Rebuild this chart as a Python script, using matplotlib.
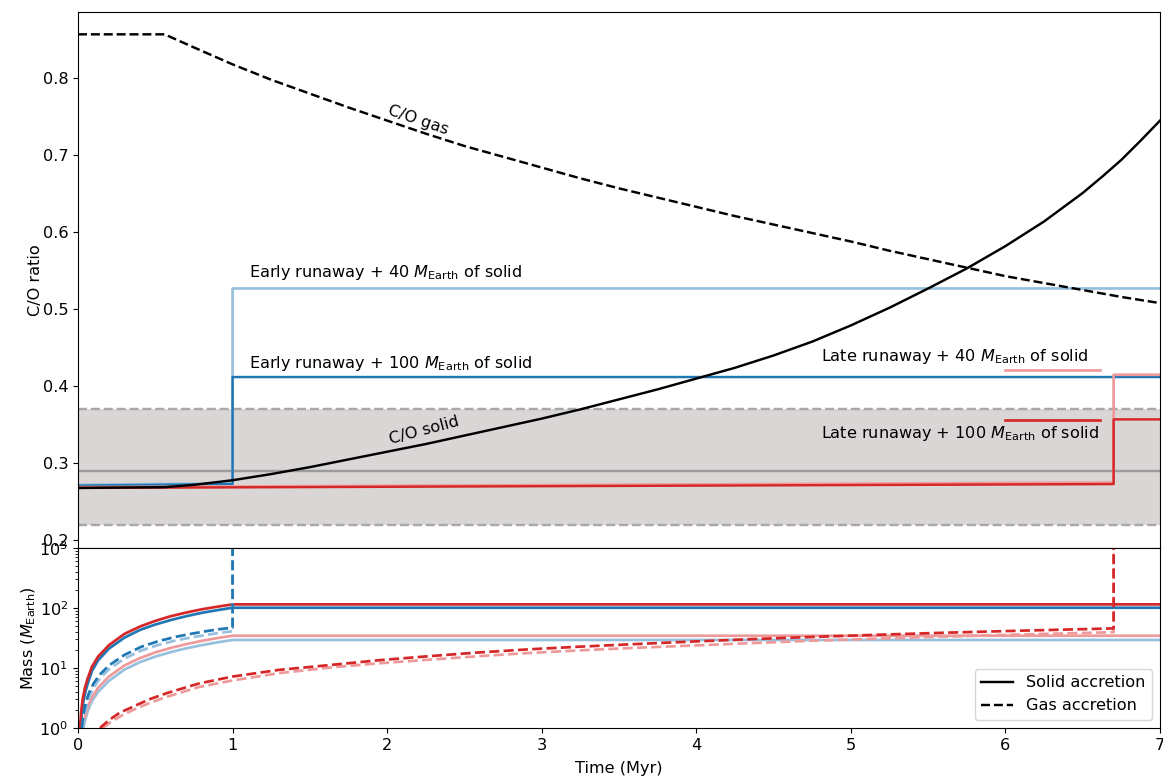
import numpy as np
import matplotlib
matplotlib.use("Agg")
import matplotlib.pyplot as plt
from matplotlib.lines import Line2D

# ---------------- data: C/O ratio panel ----------------
gas_t = [0.0, 0.56, 0.75, 1.0, 1.25, 1.5, 1.75, 2.0, 2.25, 2.5, 2.75, 3.0, 3.25, 3.5, 3.75,
         4.0, 4.25, 4.5, 4.75, 5.0, 5.25, 5.5, 5.75, 6.0, 6.25, 6.5, 6.75, 7.0]
gas_co = [0.857, 0.857, 0.840, 0.818, 0.798, 0.780, 0.762, 0.745, 0.728, 0.712, 0.698, 0.684, 0.670, 0.657, 0.645,
          0.633, 0.621, 0.610, 0.599, 0.588, 0.576, 0.565, 0.554, 0.543, 0.534, 0.525, 0.516, 0.508]

solid_t = [0.0, 0.56, 0.75, 1.0, 1.25, 1.5, 1.75, 2.0, 2.25, 2.5, 2.75, 3.0, 3.25, 3.5, 3.75,
           4.0, 4.25, 4.5, 4.75, 5.0, 5.25, 5.5, 5.75, 6.0, 6.25, 6.5, 6.625, 6.75, 6.875, 7.0]
solid_co = [0.268, 0.269, 0.272, 0.278, 0.286, 0.295, 0.305, 0.315, 0.325, 0.336, 0.347, 0.358, 0.370, 0.383, 0.396,
            0.410, 0.424, 0.440, 0.458, 0.479, 0.502, 0.527, 0.553, 0.582, 0.614, 0.651, 0.672, 0.694, 0.719, 0.745]

early40_t = [0.0, 1.0, 1.0, 7.0]
early40_co = [0.272, 0.274, 0.527, 0.527]
early100_t = [0.0, 1.0, 1.0, 7.0]
early100_co = [0.271, 0.273, 0.412, 0.412]
late40_t = [0.0, 6.7, 6.7, 7.0]
late40_co = [0.269, 0.275, 0.415, 0.415]
late100_t = [0.0, 6.7, 6.7, 7.0]
late100_co = [0.268, 0.273, 0.357, 0.357]

band_low, band_mid, band_high = 0.22, 0.29, 0.37

# ---------------- data: mass panel ----------------
red_solid_t = [0.013, 0.02, 0.03, 0.045, 0.06, 0.09, 0.13, 0.2, 0.3, 0.4, 0.5, 0.6, 0.7, 0.8, 0.9, 1.0, 7.0]
red_solid_m = [1.0, 1.8, 3.0, 4.7, 6.4, 10.5, 15.5, 24, 37, 49, 61, 73, 84, 95, 105, 115, 115]
blue_solid_t = [0.017, 0.024, 0.034, 0.05, 0.065, 0.09, 0.13, 0.2, 0.3, 0.4, 0.5, 0.6, 0.7, 0.8, 0.9, 1.0, 7.0]
blue_solid_m = [1.0, 1.7, 2.7, 4.2, 5.7, 8.9, 13.4, 21, 32, 43, 53, 63, 73, 83, 92, 101, 101]
lred_solid_t = [0.03, 0.04, 0.055, 0.07, 0.09, 0.13, 0.2, 0.3, 0.4, 0.5, 0.6, 0.7, 0.8, 0.9, 1.0, 7.0]
lred_solid_m = [1.0, 1.4, 1.9, 2.5, 3.2, 4.7, 7.2, 11.0, 14.6, 18.2, 21.6, 25.0, 28.3, 31.5, 34.5, 34.5]
lblue_solid_t = [0.035, 0.045, 0.06, 0.075, 0.09, 0.13, 0.2, 0.3, 0.4, 0.5, 0.6, 0.7, 0.8, 0.9, 1.0, 7.0]
lblue_solid_m = [1.0, 1.3, 1.8, 2.3, 2.8, 4.0, 6.1, 9.4, 12.5, 15.5, 18.4, 21.3, 24.0, 26.7, 29.3, 29.3]

blue_gas_t = [0.025, 0.035, 0.05, 0.07, 0.1, 0.14, 0.2, 0.3, 0.41, 0.52, 0.63, 0.74, 0.84, 0.92, 1.0, 1.0]
blue_gas_m = [1.0, 1.7, 2.6, 3.8, 5.5, 7.7, 11.0, 16.5, 22.6, 28.0, 33.0, 37.5, 41.5, 44.5, 47.0, 2000]
lblue_gas_t = [0.03, 0.04, 0.055, 0.075, 0.1, 0.14, 0.2, 0.3, 0.41, 0.52, 0.63, 0.74, 0.84, 0.92, 1.0, 1.0]
lblue_gas_m = [1.0, 1.5, 2.3, 3.3, 4.7, 6.6, 9.5, 14.3, 19.6, 24.3, 28.7, 32.6, 36.0, 38.6, 41.0, 2000]
red_gas_t = [0.142, 0.2, 0.27, 0.357, 0.46, 0.573, 0.78, 1.0, 1.3, 1.63, 1.95, 2.28, 2.6, 2.92, 3.25, 3.57,
             3.96, 4.36, 4.76, 5.2, 5.62, 6.15, 6.7, 6.7]
red_gas_m = [1.0, 1.35, 1.8, 2.27, 3.0, 3.8, 5.5, 7.2, 9.3, 11.2, 13.5, 15.8, 18.2, 20.5, 22.7, 24.8,
             27.5, 30.3, 33.0, 36.0, 38.8, 42.2, 45.7, 2000]
lred_gas_t = [0.16, 0.22, 0.29, 0.357, 0.46, 0.573, 0.78, 1.0, 1.3, 1.65, 1.95, 2.28, 2.6, 2.92, 3.25, 3.57,
              3.96, 4.36, 4.76, 5.2, 5.62, 6.15, 6.7, 6.7]
lred_gas_m = [1.0, 1.3, 1.65, 2.0, 2.6, 3.3, 4.8, 6.2, 8.2, 10.3, 12.0, 13.8, 15.8, 17.8, 19.7, 21.5,
              23.6, 26.0, 28.5, 31.0, 33.5, 36.5, 39.5, 2000]

# ---------------- style ----------------
BLUE = "#1f77b4"
LBLUE = "#97c0de"
RED = "#d62728"
LRED = "#ee9a9a"
FS = 11.6
LW = 1.75

W, H = 1163, 776
plt.rcParams["font.size"] = FS
fig = plt.figure(figsize=(W / 100, H / 100), dpi=100)

L, R = 78, 1160
ax1 = fig.add_axes([L / W, (H - 548) / H, (R - L) / W, (548 - 12) / H])
ax2 = fig.add_axes([L / W, (H - 728) / H, (R - L) / W, (728 - 548) / H])

# ---- top panel ----
ax1.fill_between([0, 7], band_low, band_high, color="#dad6d6", lw=0, zorder=0)
ax1.axhline(band_high, color="#a8a8a8", ls="--", lw=LW, zorder=1)
ax1.axhline(band_low, color="#a8a8a8", ls="--", lw=LW, zorder=1)
ax1.axhline(band_mid, color="#9c9c9c", ls="-", lw=LW, zorder=1)

ax1.plot(gas_t, gas_co, color="black", ls="--", lw=LW, zorder=3)
ax1.plot(solid_t, solid_co, color="black", ls="-", lw=LW, zorder=3)

ax1.plot(early40_t, early40_co, color=LBLUE, lw=LW + 0.2, zorder=2)
ax1.plot(early100_t, early100_co, color=BLUE, lw=LW, zorder=2)
ax1.plot(late40_t, late40_co, color=LRED, lw=LW + 0.2, zorder=2)
ax1.plot(late100_t, late100_co, color=RED, lw=LW, zorder=2)

ax1.text(2.2, 0.745, "C/O gas", rotation=-19, ha="center", va="center", fontsize=FS)
ax1.text(2.24, 0.343, "C/O solid", rotation=15, ha="center", va="center", fontsize=FS)

ax1.text(1.106, 0.548, r"Early runaway + 40 $M_{\rm Earth}$ of solid", ha="left", va="center")
ax1.text(1.106, 0.429, r"Early runaway + 100 $M_{\rm Earth}$ of solid", ha="left", va="center")
ax1.text(4.81, 0.439, r"Late runaway + 40 $M_{\rm Earth}$ of solid", ha="left", va="center")
ax1.text(4.81, 0.339, r"Late runaway + 100 $M_{\rm Earth}$ of solid", ha="left", va="center")
ax1.plot([6.0, 6.61], [0.421, 0.421], color=LRED, lw=LW + 0.2)
ax1.plot([6.0, 6.61], [0.356, 0.356], color=RED, lw=LW + 0.2)

ax1.set_xlim(0, 7)
ax1.set_ylim(0.19, 0.886)
ax1.set_yticks([0.2, 0.3, 0.4, 0.5, 0.6, 0.7, 0.8])
ax1.set_xticks([])
ax1.set_ylabel("C/O ratio", labelpad=0)

# ---- bottom panel ----
ax2.plot(lblue_solid_t, lblue_solid_m, color=LBLUE, lw=LW + 0.2)
ax2.plot(lred_solid_t, lred_solid_m, color=LRED, lw=LW + 0.2)
ax2.plot(blue_solid_t, blue_solid_m, color=BLUE, lw=LW + 0.2)
ax2.plot(red_solid_t, red_solid_m, color=RED, lw=LW + 0.2)
ax2.plot(lblue_gas_t, lblue_gas_m, color=LBLUE, lw=LW + 0.2, ls="--")
ax2.plot(blue_gas_t, blue_gas_m, color=BLUE, lw=LW + 0.2, ls="--")
ax2.plot(lred_gas_t, lred_gas_m, color=LRED, lw=LW + 0.2, ls="--")
ax2.plot(red_gas_t, red_gas_m, color=RED, lw=LW + 0.2, ls="--")

ax2.set_yscale("log")
ax2.set_xlim(0, 7)
ax2.set_ylim(1, 1000)
ax2.set_ylabel(r"Mass ($M_{\rm Earth}$)", labelpad=1)
ax2.set_xlabel("Time (Myr)", labelpad=6)

handles = [Line2D([], [], color="black", ls="-", lw=LW),
           Line2D([], [], color="black", ls="--", lw=LW)]
ax2.legend(handles, ["Solid accretion", "Gas accretion"], loc="lower right", fontsize=FS)

fig.savefig("out.png", dpi=100)
